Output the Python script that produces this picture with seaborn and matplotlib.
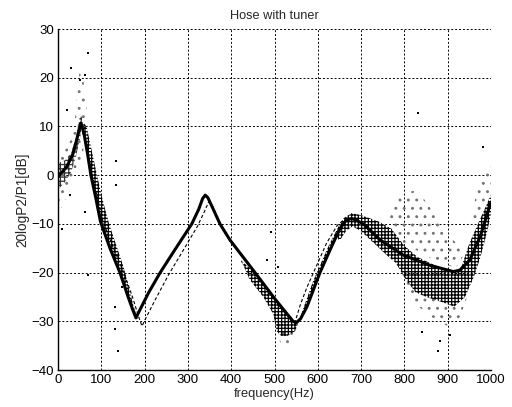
import matplotlib
matplotlib.use("Agg")
import matplotlib.pyplot as plt
import seaborn as sns

# model curve (thick solid line)
freq_model = [0, 20, 35, 47, 53, 60, 68, 76, 88, 98, 120, 143, 162, 172, 180, 190, 210, 236, 270,
              309, 325, 334, 340, 346, 356, 374, 397, 455, 500, 530, 543, 550, 560, 575, 590, 605,
              630, 651, 665, 678, 690, 705, 744, 797, 859, 913, 928, 951, 975, 1000]
db_model = [-0.3, 1.7, 4.5, 8.6, 10.7, 8.5, 4.5, 0, -5, -9.5, -15, -20, -25, -27.5, -29.3, -27.5,
            -24, -20, -15.3, -10, -7, -4.8, -4.1, -4.6, -6.5, -10, -13.3, -20, -25.3, -28.6, -30,
            -30.3, -29.5, -27, -23.5, -20, -15, -11, -9.3, -8.9, -9.3, -10, -13.3, -16.4, -18.5,
            -19.8, -19.5, -17.4, -12.6, -5.5]

# second model (thin dashed line)
freq_dash = [0, 20, 35, 47, 54, 62, 70, 80, 92, 104, 128, 152, 172, 186, 194, 202, 225, 255, 290,
             322, 338, 348, 356, 374, 397, 455, 500, 530, 540, 548, 560, 575, 595, 620, 645, 665,
             678, 690, 705, 744, 797, 859, 913, 928, 951, 975, 1000]
db_dash = [-0.5, 1.5, 4.5, 8.6, 10.5, 8, 4, -0.5, -5, -9.5, -15, -20, -25, -29, -31, -29.5, -25.5,
           -20.5, -15.3, -10.5, -7.5, -5.5, -6.2, -10, -13.3, -20, -25.3, -28.6, -30.3, -30, -26.5,
           -23, -19, -14, -10.3, -8.8, -8.9, -9.3, -10, -13.3, -16.4, -18.5, -19.8, -19.5, -17.4,
           -12.6, -5.5]

dense_a_f = [56, 62, 68, 76, 88, 98, 120, 143, 162, 178, 184, 175, 163, 152, 135, 118, 103, 90, 78, 66]
dense_a_db = [11, 8, 4.5, 0, -5, -9.5, -15, -20, -25, -29, -29.5, -27, -23, -19, -14.5, -10, -5, 0, 5, 10]

dense_c_f = [420, 455, 500, 530, 550, 560, 575, 590, 605, 630, 651, 665,
             648, 625, 605, 588, 572, 558, 548, 530, 515, 505, 497, 474, 443, 428]
dense_c_db = [-17.3, -20, -25.5, -28.5, -30.3, -29.5, -27, -23.5, -20, -15, -11, -9.3,
              -10.5, -14.5, -18.5, -22, -26, -29.5, -32, -33, -33, -32, -28.5, -25, -21.5, -18.5]

dense_d_f = [640, 660, 678, 700, 740, 770, 800, 830, 870, 910, 930, 950, 970, 990, 1000,
             1000, 990, 975, 960, 940, 915, 885, 850, 825, 800, 780, 760, 730, 700, 680, 665, 650]
dense_d_db = [-12, -8.8, -7.8, -8.2, -9.5, -11, -14.5, -16.8, -18.5, -19.8, -19.3, -14, -10, -6, -4,
              -8, -12, -17, -21, -25, -27, -26, -25, -24, -21, -18, -16.5, -14, -11.5, -10.5, -11.5, -13.5]

core_f = [0, 15, 30, 42, 52, 56, 50, 42, 30, 15, 0]
core_db = [-3, -1.5, 0.5, 4, 8, 12, 12, 8, 4.5, 3, 2.5]

# sparse clouds
sparse_clouds = [
    ([0, 12, 28, 42, 55, 62, 66, 58, 52, 44, 38, 28, 15, 5, 0],
     [-8, -6, -3, 0, 2, 8, 14, 20, 23, 17, 10, 7, 5, 4, 5]),
    ([760, 790, 830, 870, 910, 940, 920, 880, 840, 800, 770],
     [-9, -4, -3, -8, -13, -16, -19, -18, -16, -14, -11.5]),
    ([955, 968, 985, 998, 1000, 990], [-10, -2, 0, 2, -4, -8]),
    ([790, 820, 860, 900, 925, 945, 915, 880, 840], [-20, -26, -29, -31, -30, -25, -26.5, -25.5, -24.5]),
    ([500, 515, 535, 545], [-30, -35, -36, -32]),
]

# isolated measurement points
out_f = [70, 30, 51, 62, 20, 9, 69, 132, 135, 134, 62, 28, 147, 139, 132, 493, 482, 509,
         831, 981, 840, 882, 905, 878]
out_db = [25, 21.9, 19.5, 20.6, 13.4, -11, -20.5, -27, 3, -2, -7.5, -4, -22.9, -36, -31.6,
          -11.6, -17.4, -18.8, 12.7, 5.8, -32.1, -34, -32.8, -36]

sns.set_style("white")
plt.rcParams["font.family"] = ["Liberation Sans", "DejaVu Sans"]
plt.rcParams["hatch.linewidth"] = 0.9

fig = plt.figure(figsize=(5.12, 4.07), dpi=100)
ax = fig.add_axes([0.1133, 0.0909, 0.8457, 0.8378])

for f, d in sparse_clouds:
    ax.fill(f, d, facecolor="none", edgecolor="0.45", hatch="..", linewidth=0, zorder=1)
for f, d in [(dense_a_f, dense_a_db), (dense_c_f, dense_c_db), (dense_d_f, dense_d_db)]:
    ax.fill(f, d, facecolor="none", edgecolor="k", hatch="+++++", linewidth=0, zorder=1)
ax.fill(core_f, core_db, facecolor="none", edgecolor="0.2", hatch="++++", linewidth=0, zorder=1)

sns.scatterplot(x=out_f, y=out_db, ax=ax, color="k", s=3, marker="s", linewidth=0, zorder=2)
sns.lineplot(x=freq_dash, y=db_dash, ax=ax, color="k", linewidth=0.8, linestyle=(0, (3, 2)),
             estimator=None, sort=False, zorder=3)
sns.lineplot(x=freq_model, y=db_model, ax=ax, color="k", linewidth=2.2,
             estimator=None, sort=False, zorder=4)

ax.set_xlim(0, 1000)
ax.set_ylim(-40, 30)
ax.set_xticks(range(0, 1001, 100))
ax.set_yticks(range(-40, 31, 10))
ax.grid(True, color="k", linestyle=(0, (2, 2)), linewidth=0.7)
ax.set_axisbelow(True)
for s in ["top", "right"]:
    ax.spines[s].set_visible(False)
for s in ["left", "bottom"]:
    ax.spines[s].set_color("k")
    ax.spines[s].set_linewidth(1.0)
ax.tick_params(direction="in", length=3, labelsize=9.5, colors="k", pad=3)

ax.set_title("Hose with tuner", fontsize=9.2, pad=7)
ax.set_xlabel("frequency(Hz)", fontsize=9.3, labelpad=1)
ax.set_ylabel("20logP2/P1[dB]", fontsize=9.8, labelpad=1)

fig.savefig("out.png", dpi=100)
